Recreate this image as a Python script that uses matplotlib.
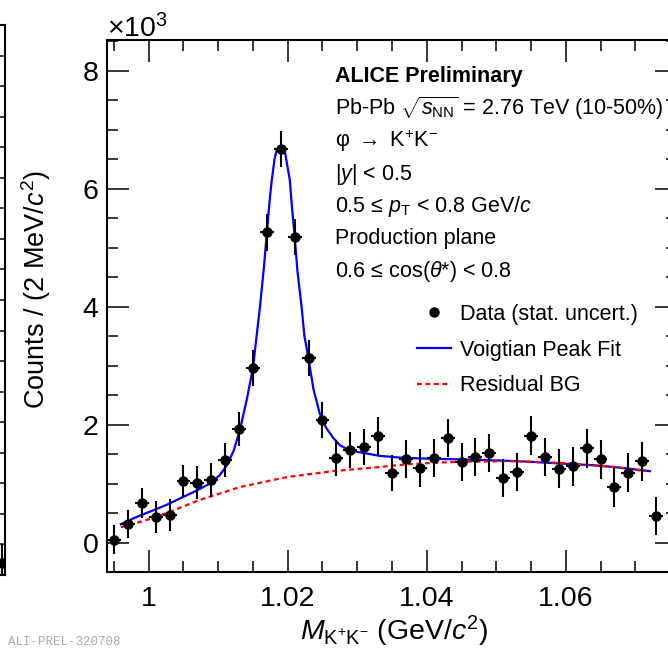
import numpy as np
import matplotlib.pyplot as plt
from matplotlib.ticker import MultipleLocator, FuncFormatter
from matplotlib.lines import Line2D

plt.rcParams['font.family'] = ['Liberation Sans', 'DejaVu Sans']
plt.rcParams['mathtext.fontset'] = 'custom'
plt.rcParams['mathtext.rm'] = 'Liberation Sans'
plt.rcParams['mathtext.it'] = 'Liberation Sans:italic'
plt.rcParams['mathtext.bf'] = 'Liberation Sans:bold'

# centros dos bins (GeV/c^2) e contagens (x10^3)
massa = [0.995, 0.997, 0.999, 1.001, 1.003, 1.005, 1.007, 1.009, 1.011, 1.013,
         1.015, 1.017, 1.019, 1.021, 1.023, 1.025, 1.027, 1.029, 1.031, 1.033,
         1.035, 1.037, 1.039, 1.041, 1.043, 1.045, 1.047, 1.049, 1.051, 1.053,
         1.055, 1.057, 1.059, 1.061, 1.063, 1.065, 1.067, 1.069, 1.071, 1.073]
contagens = [0.05, 0.31, 0.67, 0.43, 0.46, 1.04, 1.01, 1.06, 1.40, 1.92,
             2.96, 5.26, 6.67, 5.18, 3.13, 2.08, 1.43, 1.57, 1.62, 1.80,
             1.18, 1.42, 1.26, 1.43, 1.77, 1.37, 1.45, 1.52, 1.09, 1.19,
             1.81, 1.45, 1.25, 1.29, 1.60, 1.41, 0.94, 1.18, 1.38, 0.45]
erros = [0.24, 0.24, 0.25, 0.27, 0.27, 0.27, 0.28, 0.28, 0.29, 0.29,
         0.30, 0.31, 0.31, 0.31, 0.31, 0.30, 0.31, 0.31, 0.31, 0.32,
         0.31, 0.32, 0.32, 0.32, 0.32, 0.32, 0.32, 0.32, 0.32, 0.32,
         0.33, 0.33, 0.33, 0.33, 0.33, 0.33, 0.33, 0.33, 0.33, 0.33]
meia_largura = 0.001

# ajuste Voigtiano
ajuste_x = [0.9960, 0.9980, 1.0001, 1.0026, 1.0049, 1.0069, 1.0088, 1.0102, 1.0112,
            1.0122, 1.0131, 1.0141, 1.0150, 1.0155, 1.0160, 1.0166, 1.0170, 1.0174,
            1.0177, 1.0181, 1.0184, 1.0190, 1.0196, 1.0200, 1.0203, 1.0206, 1.0210,
            1.0214, 1.0220, 1.0224, 1.0230, 1.0237, 1.0246, 1.0255, 1.0265, 1.0275,
            1.0289, 1.0308, 1.0332, 1.0361, 1.0404, 1.0447, 1.0505, 1.0548, 1.0591,
            1.0639, 1.0678, 1.0721]
ajuste_y = [0.31, 0.42, 0.52, 0.64, 0.77, 0.88, 1.00, 1.14, 1.30,
            1.55, 1.90, 2.42, 2.96, 3.48, 3.99, 4.70, 5.26, 5.80,
            6.14, 6.50, 6.65, 6.72, 6.62, 6.35, 6.14, 5.70, 5.18,
            4.60, 3.99, 3.50, 3.11, 2.60, 2.19, 1.95, 1.78, 1.65,
            1.56, 1.52, 1.47, 1.44, 1.42, 1.41, 1.39, 1.37, 1.34,
            1.31, 1.27, 1.21]

# fundo residual
fundo_x = [0.9960, 0.9994, 1.0026, 1.0073, 1.0131, 1.0199, 1.0265, 1.0332,
           1.0375, 1.0447, 1.0519, 1.0591, 1.0662, 1.0715]
fundo_y = [0.26, 0.37, 0.50, 0.72, 0.94, 1.11, 1.21, 1.28,
           1.33, 1.37, 1.38, 1.35, 1.29, 1.21]

# painel vizinho (so um pedaco aparece)
viz_massa = [1.075]
viz_contagens = [-0.30]
viz_erros = [0.30]

W, H = 668, 648
fig = plt.figure(figsize=(W / 100, H / 100), dpi=100)

def caixa(x0, y0, x1, y1):
    return [x0 / W, 1 - y1 / H, (x1 - x0) / W, (y1 - y0) / H]

fmt = FuncFormatter(lambda v, p: '%g' % round(v, 4))

# painel da esquerda, cortado
axv = fig.add_axes(caixa(-565, 25, 5, 575))
axv.errorbar(viz_massa, viz_contagens, yerr=viz_erros, xerr=meia_largura, fmt='o',
             color='black', ms=6.5, elinewidth=1.5, capsize=0)
axv.set_xlim(0.994, 1.0755)
axv.set_ylim(-0.5, 8.5)
axv.yaxis.set_major_locator(MultipleLocator(2))
axv.yaxis.set_minor_locator(MultipleLocator(0.5))
axv.tick_params(which='both', direction='in', right=True, labelleft=False, labelbottom=False, width=1.1)
axv.tick_params(which='major', length=15.8)
axv.tick_params(which='minor', length=7.9)
for s in axv.spines.values():
    s.set_linewidth(1.5)

# painel principal
ax = fig.add_axes(caixa(107, 40, 677, 572))
ax.plot(ajuste_x, ajuste_y, color='blue', lw=1.6, zorder=2)
ax.plot(fundo_x, fundo_y, color='red', lw=1.6, ls=(0, (2.2, 1.6)), zorder=2)
ax.errorbar(massa, contagens, yerr=erros, xerr=meia_largura, fmt='o', color='black',
            ms=6.5, elinewidth=1.5, capsize=0, zorder=3)

ax.set_xlim(0.994, 1.076)
ax.set_ylim(-0.5, 8.52)
ax.xaxis.set_major_locator(MultipleLocator(0.02))
ax.xaxis.set_minor_locator(MultipleLocator(0.005))
ax.yaxis.set_major_locator(MultipleLocator(2))
ax.yaxis.set_minor_locator(MultipleLocator(0.5))
ax.xaxis.set_major_formatter(fmt)
ax.yaxis.set_major_formatter(fmt)
ax.tick_params(which='both', direction='in', top=True, right=True, width=1.1)
ax.tick_params(which='major', length=15.8, labelsize=20.5)
ax.tick_params(which='minor', length=7.9)
ax.tick_params(axis='x', pad=10)
ax.tick_params(axis='y', pad=6)
for s in ax.spines.values():
    s.set_linewidth(1.5)

fig.text(107 / W, 1 - 37 / H, r'$\times$10$^{3}$', fontsize=20.5, va='baseline')
fig.text(36 / W, 1 - 290 / H, r'Counts / (2 MeV/$c^{2}$)', fontsize=19.5,
         rotation=90, ha='center', va='center')
fig.text(394 / W, 1 - 640 / H, r'$M_{\mathrm{K^{+}K^{-}}}$ (GeV/$c^{2}$)', fontsize=20.5,
         ha='center', va='baseline')

linhas = ['ALICE Preliminary',
          r'Pb-Pb $\sqrt{s_{\mathrm{NN}}}$ = 2.76 TeV (10-50%)',
          r'φ $\rightarrow$ K$^{+}$K$^{-}$',
          r'|$y$| < 0.5',
          r'0.5 ≤ $p_{\mathrm{T}}$ < 0.8 GeV/$c$',
          'Production plane',
          r'0.6 ≤ cos($\theta$*) < 0.8']
bases = [82, 115, 147, 180, 212, 244, 277]
for i, (t, b) in enumerate(zip(linhas, bases)):
    fig.text(335 / W, 1 - b / H, t, fontsize=15.5, va='baseline',
             fontweight='bold' if i == 0 else 'normal')

alcas = [Line2D([], [], color='black', marker='o', ls='none', ms=6.5),
         Line2D([], [], color='blue', lw=1.6),
         Line2D([], [], color='red', lw=1.6, ls=(0, (2.2, 1.6)))]
rotulos = ['Data (stat. uncert.)', 'Voigtian Peak Fit', 'Residual BG']
ax.legend(alcas, rotulos, loc='upper left', bbox_to_anchor=((417 - 107) / 570, (572 - 304) / 532),
          frameon=False, fontsize=15.5, handlelength=1.6, handletextpad=0.4,
          labelspacing=0.68, borderpad=0, borderaxespad=0)

fig.text(8 / W, 1 - 648 / H, 'ALI-PREL-320708', fontsize=9, color='#aaaaaa',
         family='Liberation Mono', va='bottom')

fig.savefig('out.png', dpi=100)
